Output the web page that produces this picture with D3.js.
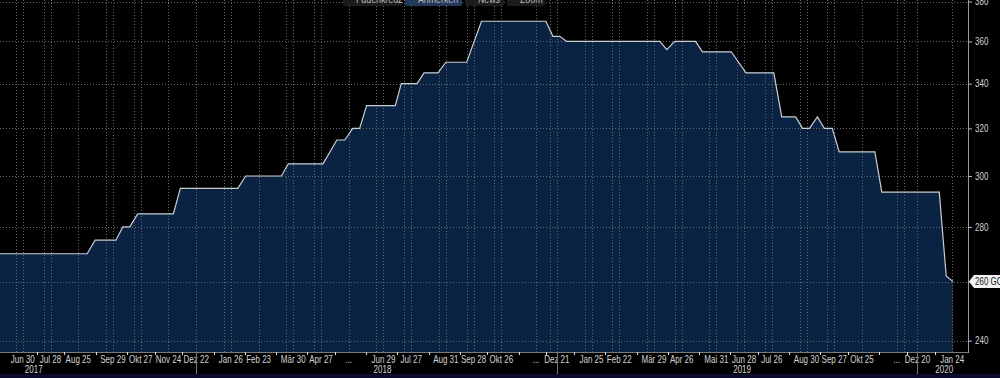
<!DOCTYPE html>
<html>
<head>
<meta charset="utf-8">
<script src="https://cdn.jsdelivr.net/npm/d3@7"></script>
<style>
  html, body { margin: 0; padding: 0; background: #000; overflow: hidden; }
  svg { display: block; }
  text { font-family: "Liberation Sans", Arial, sans-serif; }
</style>
</head>
<body>
<div id="chart"></div>
<script>
// series: weekly GCI level, vertices
const dates = [
  "2017-06-02", "2017-09-03", "2017-09-11", "2017-10-02", "2017-10-09", "2017-10-16",
  "2017-10-24", "2017-11-29", "2017-12-06", "2018-02-02", "2018-02-10", "2018-03-18",
  "2018-03-25", "2018-04-29", "2018-05-13", "2018-05-21", "2018-05-29", "2018-06-05",
  "2018-06-12", "2018-07-11", "2018-07-17", "2018-08-02", "2018-08-09", "2018-08-23",
  "2018-08-31", "2018-09-21", "2018-10-06", "2018-12-10", "2018-12-17", "2018-12-24",
  "2018-12-31", "2019-04-04", "2019-04-11", "2019-04-19", "2019-05-10", "2019-05-17",
  "2019-06-15", "2019-06-30", "2019-07-28", "2019-08-05", "2019-08-19", "2019-08-26",
  "2019-09-02", "2019-09-10", "2019-09-17", "2019-09-25", "2019-10-02", "2019-11-07",
  "2019-11-14", "2020-01-11", "2020-01-18", "2020-01-25"
];
const values = [
  270, 270, 275, 275, 280, 280,
  285, 285, 295, 295, 300, 300,
  305, 305, 315, 315, 320, 320,
  330, 330, 340, 340, 345, 345,
  350, 350, 370, 370, 362.5, 362.5,
  360, 360, 356, 360, 360, 355,
  355, 345, 345, 325, 325, 320,
  320, 325, 320, 320, 310, 310,
  293.5, 293.5, 262, 260
];

// x axis labels
const tickDates = [
  "2017-06-30", "2017-07-28", "2017-08-25", "2017-09-29", "2017-10-27", "2017-11-24",
  "2017-12-22", "2018-01-26", "2018-02-23", "2018-03-30", "2018-04-27", "2018-05-25",
  "2018-06-29", "2018-07-27", "2018-08-31", "2018-09-28", "2018-10-26", "2018-11-30",
  "2018-12-21", "2019-01-25", "2019-02-22", "2019-03-29", "2019-04-26", "2019-05-31",
  "2019-06-28", "2019-07-26", "2019-08-30", "2019-09-27", "2019-10-25", "2019-11-29",
  "2019-12-20", "2020-01-24"
];
const tickLabels = [
  "Jun 30", "Jul 28", "Aug 25", "Sep 29", "Okt 27", "Nov 24",
  "Dez 22", "Jan 26", "Feb 23", "Mär 30", "Apr 27", "...",
  "Jun 29", "Jul 27", "Aug 31", "Sep 28", "Okt 26", "...",
  "Dez 21", "Jan 25", "Feb 22", "Mär 29", "Apr 26", "Mai 31",
  "Jun 28", "Jul 26", "Aug 30", "Sep 27", "Okt 25", "...",
  "Dez 20", "Jan 24"
];
// extra weekly grid lines (besides the labelled dates)
const extraGridDates = [
  "2017-06-23", "2017-07-21", "2017-09-22", "2017-10-20", "2018-01-19", "2018-03-23",
  "2018-04-20", "2018-06-22", "2018-07-20", "2018-08-24", "2018-09-21", "2018-10-19",
  "2018-12-14", "2019-01-18", "2019-02-15",
  "2019-03-22", "2019-04-19", "2019-05-24", "2019-06-21", "2019-07-19", "2019-08-23",
  "2019-09-20", "2019-12-06"
];
const yearLabels = ["2017", "2018", "2019", "2020"];
const yearDates = ["2017-07-11", "2018-06-28", "2019-06-26", "2020-01-16"];
const yearBreaks = ["2017-12-22", "2018-12-21", "2019-12-20"];
const yTicks = [240, 260, 280, 300, 320, 340, 360, 380];
const lastLabel = "260 GCI";
const toolButtons = ["Fadenkreuz", "Anmerken", "News", "Zoom"];

const W = 1000, H = 378;
const plotW = 968, plotB = 352;
const SX = 0.8; // bloomberg font is condensed
const parse = d3.timeParse("%Y-%m-%d");

const svg = d3.select("#chart").append("svg").attr("width", W).attr("height", H);
svg.append("rect").attr("width", W).attr("height", H).attr("fill", "#000");

const x = d3.scaleTime().domain([parse("2017-06-07"), parse("2020-02-09")]).range([0, plotW]);
const y = d3.scaleLog().domain([236.35, 380.8]).range([plotB, 0]);

// condensed text helper
const ntext = (g, px, py, str, { size = 10, fill = "#d4d4d4", anchor = "middle" } = {}) =>
  g.append("text").attr("transform", `translate(${px},${py}) scale(${SX},1)`)
    .attr("text-anchor", anchor).attr("fill", fill).style("font-size", size + "px").text(str);

svg.append("defs").append("clipPath").attr("id", "plot")
  .append("rect").attr("x", 0).attr("y", 0).attr("width", plotW).attr("height", plotB);

const data = dates.map((d, i) => ({ date: parse(d), value: values[i] }));
const plot = svg.append("g").attr("clip-path", "url(#plot)");

// area fill
plot.append("path").datum(data)
  .attr("d", d3.area().x(d => x(d.date)).y0(plotB).y1(d => y(d.value)))
  .attr("fill", "#0a2343");

// grid
const grid = plot.append("g").attr("stroke", "#62676e").attr("stroke-width", 1)
  .attr("stroke-dasharray", "1,2");
grid.selectAll("line.h").data(yTicks).join("line").attr("class", "h")
  .attr("x1", 0).attr("x2", plotW)
  .attr("y1", d => Math.round(y(d)) + 0.5).attr("y2", d => Math.round(y(d)) + 0.5);
grid.selectAll("line.v").data(tickDates.concat(extraGridDates).map(parse)).join("line").attr("class", "v")
  .attr("y1", 0).attr("y2", plotB)
  .attr("x1", d => Math.round(x(d)) + 0.5).attr("x2", d => Math.round(x(d)) + 0.5);

// line
plot.append("path").datum(data)
  .attr("d", d3.line().x(d => x(d.date)).y(d => y(d.value)))
  .attr("fill", "none").attr("stroke", "#c9ced4").attr("stroke-width", 1.2);

// y axis (right); the last-value tag sits over the 260 label
const lastVal = values[values.length - 1];
const yAxis = svg.append("g").attr("transform", `translate(${plotW},0)`)
  .call(d3.axisRight(y).tickValues(yTicks)
    .tickFormat(d => d === lastVal ? "" : d3.format("d")(d)).tickSize(4).tickPadding(3));
yAxis.select(".domain").attr("stroke", "#9a9a9a").attr("d", `M0.5,0V${plotB + 1}`);
yAxis.selectAll(".tick line").attr("stroke", "#bbb");
yAxis.selectAll(".tick text").attr("fill", "#d4d4d4").style("font-size", "10px")
  .attr("x", 7 / SX).attr("transform", `scale(${SX},1)`);

// last value tag
const tag = svg.append("g").attr("transform", `translate(${plotW + 1},${y(lastVal)})`);
tag.append("path").attr("d", "M0,0 L5,-6.5 L40,-6.5 L40,6.5 L5,6.5 Z").attr("fill", "#f2f2f2");
ntext(tag, 6, 3.5, lastLabel, { size: 10, fill: "#111", anchor: "start" });

// x axis
const xa = svg.append("g");
xa.append("line").attr("x1", 0).attr("x2", plotW).attr("y1", plotB + 0.5).attr("y2", plotB + 0.5)
  .attr("stroke", "#7a7a7a");
const td = tickDates.map(parse);
const seps = td.slice(1).map((d, i) => new Date((d.getTime() + td[i].getTime()) / 2));
xa.selectAll("line.sep").data(seps).join("line").attr("class", "sep")
  .attr("x1", d => Math.round(x(d)) + 0.5).attr("x2", d => Math.round(x(d)) + 0.5)
  .attr("y1", plotB).attr("y2", plotB + 3).attr("stroke", "#ddd");
td.forEach((d, i) => ntext(xa, x(d), plotB + 11, tickLabels[i]));
xa.selectAll("line.yb").data(yearBreaks.map(parse)).join("line").attr("class", "yb")
  .attr("x1", d => Math.round(x(d)) + 0.5).attr("x2", d => Math.round(x(d)) + 0.5)
  .attr("y1", plotB + 1).attr("y2", H).attr("stroke", "#777");
yearDates.map(parse).forEach((d, i) => ntext(xa, x(d), plotB + 21, yearLabels[i]));

// cut-off strip under the chart
svg.append("rect").attr("x", 0).attr("y", 374).attr("width", W).attr("height", 4).attr("fill", "#0b0b2e");

// cut-off toolbar on top
const btnX = [343, 405, 465, 507], btnW = [59, 57, 39, 38];
const tb = svg.append("g");
toolButtons.forEach((t, i) => {
  tb.append("rect").attr("x", btnX[i]).attr("y", -8).attr("width", btnW[i]).attr("height", 14).attr("rx", 2)
    .attr("fill", i === 1 ? "#23385a" : "#1c1c1c");
  ntext(tb, btnX[i] + 13, 3, t, { size: 11, fill: "#b8b8b8", anchor: "start" });
});
</script>
</body>
</html>
